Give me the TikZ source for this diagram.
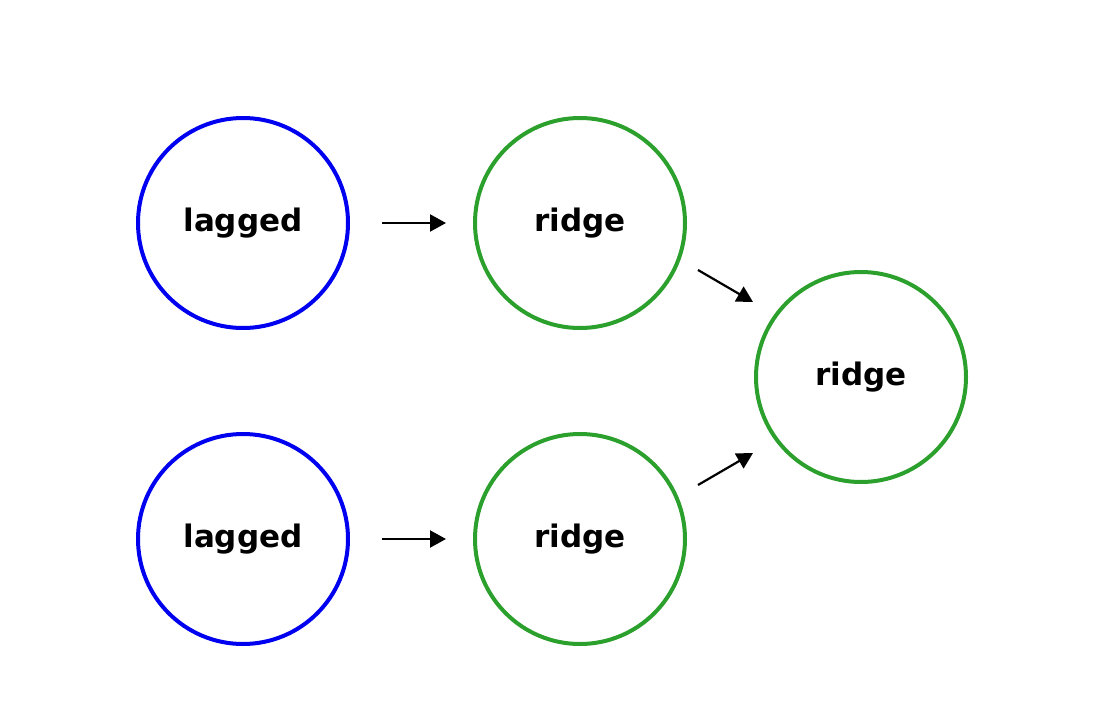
\documentclass[tikz,border=0pt]{standalone}
\usepackage{fontspec}
\setmainfont{DejaVu Sans}
\usetikzlibrary{arrows.meta}
\definecolor{blueC}{RGB}{0,0,240}
\definecolor{greenC}{RGB}{44,160,44}
\begin{document}
\begin{tikzpicture}[x=1pt,y=-1pt,
  nd/.style={circle,line width=4pt,minimum size=210pt,inner sep=0pt,
    font=\fontsize{31}{36}\selectfont\bfseries},
  lag/.style={nd,draw=blueC},
  rid/.style={nd,draw=greenC},
  arr/.style={line width=2.2pt,-{Triangle[length=16pt,width=17pt]}}]
\useasboundingbox (0,0) rectangle (1105,725);
\node[lag] (l1) at (243,223) {lagged};
\node[lag] (l2) at (243,539) {lagged};
\node[rid] (r1) at (580,223) {ridge};
\node[rid] (r2) at (580,539) {ridge};
\node[rid] (r3) at (861,377) {ridge};
\draw[arr] ([xshift=139pt]l1.center) -- ([xshift=-134pt]r1.center);
\draw[arr] ([xshift=139pt]l2.center) -- ([xshift=-134pt]r2.center);
\draw[arr] ([shift={(118,47)}]r1.center) -- ([shift={(-108,-75)}]r3.center);
\draw[arr] ([shift={(118,-54)}]r2.center) -- ([shift={(-108,76)}]r3.center);
\end{tikzpicture}
\end{document}
